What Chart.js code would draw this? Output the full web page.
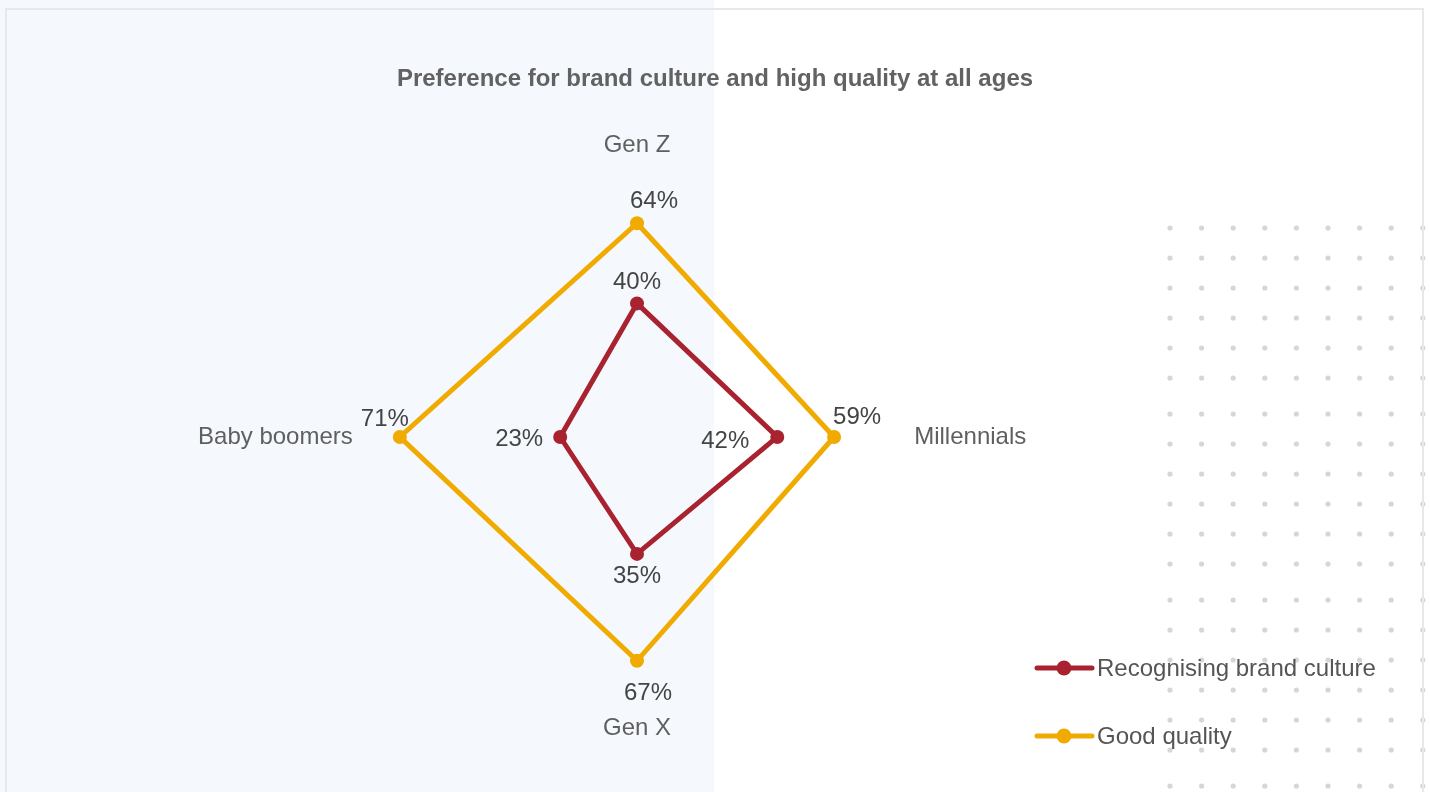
<!DOCTYPE html>
<html>
<head>
<meta charset="utf-8">
<script src="https://cdn.jsdelivr.net/npm/chart.js@4"></script>
<style>
  html, body { margin: 0; padding: 0; width: 1430px; height: 792px; overflow: hidden; background: #ffffff; font-family: "Liberation Sans", Arial, sans-serif; }
  #panel { position: absolute; left: 0; top: 0; width: 714px; height: 792px; background: #f5f9fe; }
  #frame { position: absolute; left: 5px; top: 8px; width: 1419px; height: 800px; border: 2px solid #e6e8eb; border-bottom: none; box-sizing: border-box; z-index: 3; pointer-events: none; }
  #title { position: absolute; left: 0; top: 63px; width: 1430px; text-align: center; font: bold 24px "Liberation Sans", Arial, sans-serif; line-height: 29px; color: #626262; z-index: 2; }
  #wrap { position: absolute; left: 0; top: 0; width: 1430px; height: 792px; z-index: 1; }
</style>
</head>
<body>
<div id="panel"></div>
<div id="title">Preference for brand culture and high quality at all ages</div>
<div id="wrap"><canvas id="c" width="1430" height="792"></canvas></div>
<div id="frame"></div>
<script>
// ---- data ----
const categories = ['Gen Z', 'Millennials', 'Gen X', 'Baby boomers'];
const seriesNames = ['Recognising brand culture', 'Good quality'];
const brandCulture = [40, 42, 35, 23];
const goodQuality = [64, 59, 67, 71];

// ---- styles ----
const colors = ['#a8232f', '#f0aa00'];
const labelOffsets = [
  [[0, -21], [-52, 4], [0, 22], [-41, 2]],
  [[17, -22], [23, -20], [11, 33], [-15, -18]]
];
const pointLabelPadding = [10, 10, 10, 17];
const FONT = '"Liberation Sans", Arial, sans-serif';

const dotsPlugin = {
  id: 'dots',
  beforeDraw(chart) {
    const ctx = chart.ctx;
    ctx.save();
    ctx.fillStyle = '#d6d6d6';
    for (let b = 0; b < 4; b++) {
      for (let r = 0; r < 6; r++) {
        const y = 228 + b * 186 + r * 30;
        if (y > 795) continue;
        for (let i = 0; i < 9; i++) {
          const x = 1170 + i * 31.6;
          ctx.beginPath();
          ctx.arc(x, y, 2.6, 0, Math.PI * 2);
          ctx.fill();
        }
      }
    }
    ctx.restore();
  }
};

const valueLabelPlugin = {
  id: 'valueLabels',
  afterDatasetsDraw(chart) {
    const ctx = chart.ctx;
    ctx.save();
    ctx.font = '24px ' + FONT;
    ctx.fillStyle = '#444444';
    ctx.textAlign = 'center';
    ctx.textBaseline = 'middle';
    chart.data.datasets.forEach((ds, di) => {
      const meta = chart.getDatasetMeta(di);
      meta.data.forEach((pt, i) => {
        const off = labelOffsets[di][i];
        ctx.fillText(ds.data[i] + '%', pt.x + off[0], pt.y + off[1]);
      });
    });
    ctx.restore();
  }
};

const legendPlugin = {
  id: 'customLegend',
  afterDraw(chart) {
    const ctx = chart.ctx;
    ctx.save();
    ctx.font = '24px ' + FONT;
    ctx.textBaseline = 'middle';
    ctx.textAlign = 'left';
    chart.data.datasets.forEach((ds, di) => {
      const y = 668 + di * 68;
      const x0 = 1037;
      ctx.strokeStyle = ds.borderColor;
      ctx.lineWidth = 5;
      ctx.lineCap = 'round';
      ctx.beginPath();
      ctx.moveTo(x0, y);
      ctx.lineTo(x0 + 55, y);
      ctx.stroke();
      ctx.fillStyle = ds.borderColor;
      ctx.beginPath();
      ctx.arc(x0 + 27, y, 7.5, 0, Math.PI * 2);
      ctx.fill();
      ctx.fillStyle = '#555555';
      ctx.fillText(ds.label, x0 + 60, y + 1);
    });
    ctx.restore();
  }
};

Chart.defaults.font.family = FONT;

function makeDataset(label, data, color) {
  return {
    label: label,
    data: data,
    borderColor: color,
    backgroundColor: color,
    pointBackgroundColor: color,
    borderWidth: 5,
    pointRadius: 7,
    pointBorderWidth: 0,
    borderJoinStyle: 'miter',
    fill: false
  };
}

new Chart(document.getElementById('c'), {
  type: 'radar',
  data: {
    labels: categories,
    datasets: [
      makeDataset(seriesNames[0], brandCulture, colors[0]),
      makeDataset(seriesNames[1], goodQuality, colors[1])
    ]
  },
  options: {
    responsive: false,
    animation: false,
    devicePixelRatio: 1,
    layout: { padding: { left: 137, right: 293, top: 131, bottom: 49 } },
    plugins: {
      legend: { display: false },
      title: { display: false },
      tooltip: { enabled: false }
    },
    scales: {
      r: {
        min: 0,
        max: 80,
        ticks: { display: false },
        grid: { display: false },
        angleLines: { display: false },
        pointLabels: {
          display: true,
          padding: (ctx) => pointLabelPadding[ctx.index],
          color: '#5f5f5f',
          font: { size: 24, family: FONT }
        }
      }
    }
  },
  plugins: [dotsPlugin, valueLabelPlugin, legendPlugin]
});
</script>
</body>
</html>
